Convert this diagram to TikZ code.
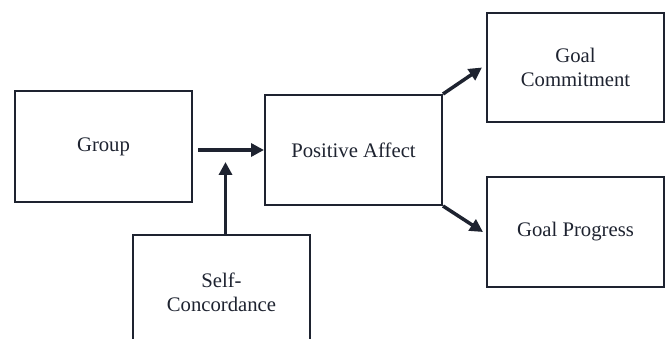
\documentclass[tikz,border=0pt]{standalone}
\usepackage{fontspec}
\setmainfont{Liberation Serif}
\usetikzlibrary{arrows.meta}
\definecolor{ink}{HTML}{1E2330}

\begin{document}
\begin{tikzpicture}[x=1pt,y=-1pt,
		box/.style={draw=ink,line width=2pt,minimum width=177pt,minimum height=110pt,inner sep=0pt,align=center,text=ink,font=\fontsize{20.7}{24}\selectfont},
		link/.style={draw=ink,line width=3.5pt,-{Triangle[length=13pt,width=13pt]}}]
		\useasboundingbox (0,0) rectangle (666,339);
		\node[box,minimum height=111pt] (group) at (103.5,146.5) {Group};
		\node[box] (affect) at (353.5,150) {Positive Affect};
		\node[box,minimum height=114pt] (selfconc) at (221.5,292) {Self-\\Concordance};
		\node[box,minimum height=109pt] (commit) at (575.5,67.5) {Goal\\Commitment};
		\node[box] (progress) at (575.5,232) {Goal Progress};
		\coordinate (meet) at (225.5,162);
		\draw[link,shorten <=5pt] (group.east |- affect.west) -- (affect.west);
		\draw[link] (selfconc.north -| meet) -- (meet);
		\draw[link] (affect.north east) -- ([xshift=-4pt]commit.west);
		\draw[link] (affect.south east) -- ([xshift=-3pt]progress.west);
	\end{tikzpicture}
\end{document}
